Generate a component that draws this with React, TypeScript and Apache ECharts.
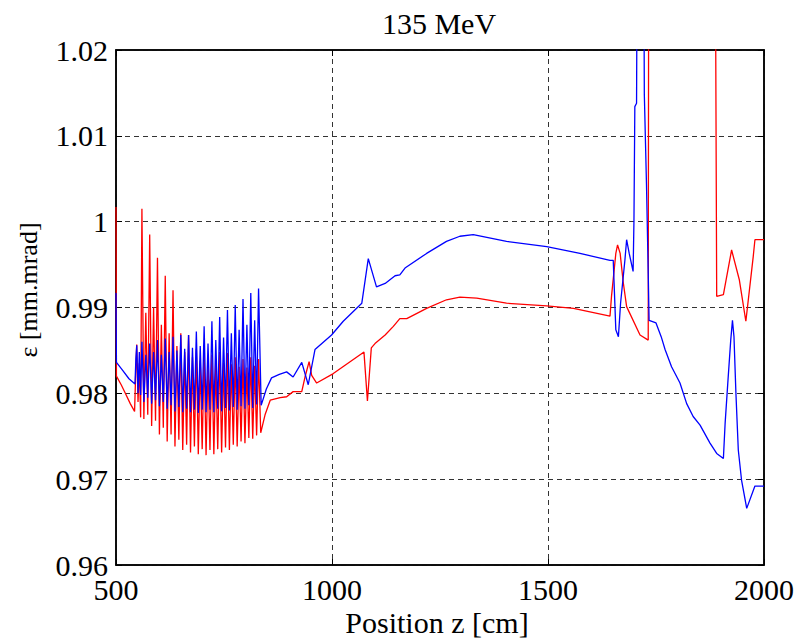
import React, { useEffect, useRef } from "react";
import * as echarts from "echarts";

const xTicks = [500, 1000, 1500, 2000];
const yTicks = [0.96, 0.97, 0.98, 0.99, 1.0, 1.01, 1.02];
const titleText = "135 MeV";
const xName = "Position z [cm]";
const yName = "ε [mm.mrad]";

const redEntry: number[][] = [[500,1.0017],[501,0.9820],[512,0.9810],[521.6,0.9800],[533,0.9788],[543,0.9779],[546,0.9830],[548,0.9857],[551,0.9790],[554,0.9835],[557,0.9772]];
const redRipple: number[][] = [
[560,1.0015],[564.5,0.9770],[569,0.9894],[573.5,0.9775],
[578,0.9985],[582.5,0.9762],[587,0.9900],[591.5,0.9768],
[596,0.9958],[600.5,0.9752],[605,0.9880],[609.5,0.9760],
[614,0.9937],[618.5,0.9744],[623,0.9870],[627.5,0.9752],
[632,0.9920],[636.5,0.9738],[641,0.9855],[645.5,0.9746],
[650,0.9870],[654.5,0.9734],[659,0.9848],[663.5,0.9740],
[668,0.9868],[672.5,0.9731],[677,0.9842],[681.5,0.9738],
[686,0.9852],[690.5,0.9729],[695,0.9838],[699.5,0.9735],
[704,0.9847],[708.5,0.9728],[713,0.9836],[717.5,0.9734],
[722,0.9845],[726.5,0.9729],[731,0.9834],[735.5,0.9735],
[740,0.9848],[744.5,0.9731],[749,0.9836],[753.5,0.9737],
[758,0.9847],[762.5,0.9734],[767,0.9834],[771.5,0.9740],
[776,0.9842],[780.5,0.9738],[785,0.9831],[789.5,0.9744],
[794,0.9840],[798.5,0.9742],[803,0.9830],[807.5,0.9748],
[812,0.9842],[816.5,0.9747],[821,0.9832],[825.5,0.9751],
[830,0.9840],[835,0.9754]];
const redRise: number[][] = [[845,0.9775],[857,0.9792],[880,0.9795],[895,0.9796],[910,0.9802],[930,0.9802],[937.5,0.9819],[947,0.9837],[953,0.9821],[964.5,0.9812],[1003,0.9823],[1065,0.9845],[1074,0.9848],[1082,0.9791],[1091,0.9853],[1099.5,0.9858],[1123,0.9868],[1142,0.9878],[1157,0.9887],[1173,0.9887],[1219,0.9899],[1265,0.9909],[1296,0.9912],[1335,0.9911],[1404,0.9905],[1497,0.9902],[1559,0.9899],[1643.5,0.9890]];
const redSpike: number[][] = [[1647,0.9913],[1657,0.9963],[1661,0.9973],[1667,0.9963],[1674,0.9930],[1682,0.9901],[1713,0.9868],[1732,0.9862],[1733.5,1.05],[1886,1.05],[1890.5,0.9913],[1906,0.9915],[1925,0.9967],[1943,0.9932],[1958,0.9884],[1975,0.9959],[1979,0.9979],[1994.5,0.9979],[2000,0.9979]];

const blueEntry: number[][] = [[500,0.9917],[501,0.9836],[515,0.9827],[530,0.9817],[544,0.9811],[546,0.9840],[548,0.9856],[551,0.9800],[554,0.9848],[557,0.9798]];
const blueRipple: number[][] = [
[560,0.9860],[564.5,0.9790],[569,0.9845],[573.5,0.9795],
[578,0.9858],[582.5,0.9788],[587,0.9848],[591.5,0.9792],
[596,0.9862],[600.5,0.9785],[605,0.9845],[609.5,0.9790],
[614,0.9864],[618.5,0.9782],[623,0.9848],[627.5,0.9786],
[632,0.9866],[636.5,0.9779],[641,0.9850],[645.5,0.9784],
[650,0.9868],[654.5,0.9778],[659,0.9852],[663.5,0.9782],
[668,0.9868],[672.5,0.9778],[677,0.9853],[681.5,0.9781],
[686,0.9872],[690.5,0.9777],[695,0.9855],[699.5,0.9781],
[704,0.9878],[708.5,0.9778],[713,0.9858],[717.5,0.9781],
[722,0.9884],[726.5,0.9778],[731,0.9862],[735.5,0.9782],
[740,0.9889],[744.5,0.9779],[749,0.9865],[753.5,0.9783],
[758,0.9897],[762.5,0.9780],[767,0.9870],[771.5,0.9784],
[776,0.9903],[780.5,0.9781],[785,0.9874],[789.5,0.9785],
[794,0.9910],[798.5,0.9782],[803,0.9880],[807.5,0.9786],
[812,0.9917],[816.5,0.9783],[821,0.9885],[825.5,0.9787],
[830,0.9922],[836,0.9786]];
const blueRise: number[][] = [[848,0.9805],[860,0.9818],[878,0.9822],[895,0.9825],[910,0.9819],[930,0.9836],[945,0.9810],[960.6,0.9851],[999,0.9868],[1026,0.9884],[1069,0.9905],[1084,0.9957],[1103,0.9924],[1123,0.9928],[1146,0.9937],[1157,0.9938],[1169,0.9946],[1219,0.9963],[1265,0.9977],[1296,0.9983],[1327,0.9985],[1404,0.9977],[1497,0.9971],[1574,0.9963],[1643.5,0.9955]];
const blueSpike: number[][] = [[1651,0.9955],[1657,0.9874],[1663,0.9866],[1668,0.9905],[1678,0.9955],[1682,0.9979],[1688,0.9963],[1697,0.9942],[1699,1.0002],[1701,1.0134],[1705,1.0138],[1707,1.04],[1721,1.04],[1723,1.0148],[1728,1.0043],[1732,0.9940],[1734,0.9885],[1750,0.9882],[1762,0.9866],[1771,0.9851],[1786,0.9831],[1805.5,0.9812],[1821,0.9788],[1836,0.9773],[1852,0.9763],[1875,0.9742],[1890.5,0.9730],[1906,0.9724],[1910,0.9765],[1917,0.9818],[1923,0.9862],[1927,0.9885],[1930.5,0.9866],[1935,0.9800],[1940.5,0.9734],[1948,0.9699],[1960,0.9666],[1979,0.9692],[1994.5,0.9692],[2000,0.9692]];

const FONT = "'Liberation Serif', 'Times New Roman', serif";

export default function App() {
  const ref = useRef<HTMLDivElement>(null);
  useEffect(() => {
    if (!ref.current) return;
    const chart = echarts.init(ref.current, undefined, { renderer: "svg" });
    const redData = [...redEntry, ...redRipple, ...redRise, ...redSpike];
    const blueData = [...blueEntry, ...blueRipple, ...blueRise, ...blueSpike];
    const fmtY = (v: number) => {
      const t = yTicks.find((y) => Math.abs(y - v) < 1e-6);
      return t === undefined ? "" : String(Number(t.toFixed(2)));
    };
    const fmtX = (v: number) => {
      const t = xTicks.find((x) => Math.abs(x - v) < 1e-6);
      return t === undefined ? "" : String(t);
    };
    const splitLine = { show: true, lineStyle: { color: "#333", type: [5, 4], width: 1 } };
    const axisLine = { show: true, onZero: false, lineStyle: { color: "#000", width: 1.5 } };
    const axisTick = { show: true, inside: true, length: 6, lineStyle: { color: "#000", width: 1 } };
    chart.setOption({
      animation: false,
      backgroundColor: "#fff",
      grid: { left: 116, top: 50, right: 34, bottom: 77, show: true, borderColor: "#000", borderWidth: 1.5, backgroundColor: "transparent" },
      xAxis: [
        { type: "value", min: 500, max: 2000, interval: 500, axisLine, axisTick, splitLine,
          axisLabel: { fontFamily: FONT, fontSize: 30, color: "#000", margin: 9, formatter: fmtX } },
        { type: "value", position: "top", min: 500, max: 2000, interval: 500, axisLine, axisTick,
          splitLine: { show: false }, axisLabel: { show: false } },
      ],
      yAxis: [
        { type: "value", min: 0.96, max: 1.02, interval: 0.01, axisLine, axisTick, splitLine,
          axisLabel: { fontFamily: FONT, fontSize: 30, color: "#000", margin: 8, formatter: fmtY } },
        { type: "value", position: "right", min: 0.96, max: 1.02, interval: 0.01, axisLine, axisTick,
          splitLine: { show: false }, axisLabel: { show: false } },
      ],
      series: [
        { type: "line", xAxisIndex: 0, yAxisIndex: 0, data: redData, showSymbol: false, symbol: "none", clip: true,
          lineStyle: { color: "#ff0000", width: 1.3 }, silent: true },
        { type: "line", xAxisIndex: 0, yAxisIndex: 0, data: blueData, showSymbol: false, symbol: "none", clip: true,
          lineStyle: { color: "#0000ff", width: 1.3 }, silent: true },
      ],
      graphic: [
        { type: "text", x: 439, y: 23, style: { text: titleText, font: `30px ${FONT}`, fill: "#000", textAlign: "center", textVerticalAlign: "middle" } },
        { type: "text", x: 437, y: 622, style: { text: xName, font: `30px ${FONT}`, fill: "#000", textAlign: "center", textVerticalAlign: "middle" } },
        { type: "text", x: 28, y: 290, rotation: Math.PI / 2, style: { text: yName, font: `26px ${FONT}`, fill: "#000", textAlign: "center", textVerticalAlign: "middle" } },
      ],
    });
    return () => chart.dispose();
  }, []);
  return <div ref={ref} style={{ position: "absolute", left: 0, top: 0, width: 798, height: 642 }} />;
}
